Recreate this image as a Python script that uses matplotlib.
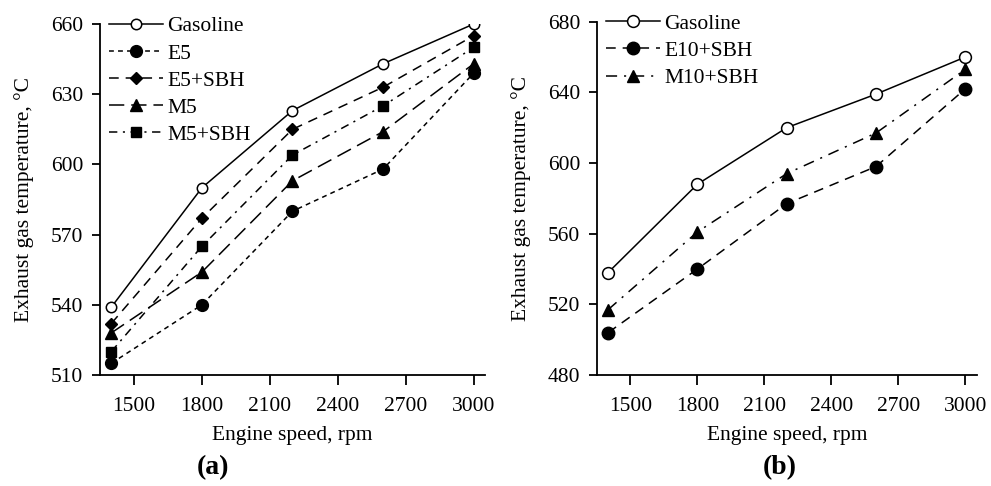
import matplotlib
matplotlib.use("Agg")
import matplotlib.pyplot as plt

plt.rcParams['font.family'] = ['Liberation Serif', 'DejaVu Serif']
plt.rcParams['lines.scale_dashes'] = False

# engine speed, rpm
speed = [1400, 1800, 2200, 2600, 3000]

# panel (a) exhaust gas temperature, deg C
gasoline_a = [539, 590, 623, 643, 660]
e5 = [515, 540, 580, 598, 639]
e5_sbh = [532, 577, 615, 633, 655]
m5 = [528, 554, 593, 614, 643]
m5_sbh = [520, 565, 604, 625, 650]

# panel (b)
gasoline_b = [538, 588, 620, 639, 660]
e10_sbh = [504, 540, 577, 598, 642]
m10_sbh = [517, 561, 594, 617, 653]

x_ticks = [1500, 1800, 2100, 2400, 2700, 3000]
y_ticks_a = [510, 540, 570, 600, 630, 660]
y_ticks_b = [480, 520, 560, 600, 640, 680]

fig = plt.figure(figsize=(9.91, 4.86), dpi=100)
ax1 = fig.add_axes([0.1009, 0.2284, 0.3885, 0.7222])
ax2 = fig.add_axes([0.6024, 0.2284, 0.3830, 0.7270])

lw = 1.1
fs = 15.5

ax1.plot(speed, gasoline_a, color='black', lw=lw, marker='o', ms=7.5,
         mfc='white', mec='black', mew=1.1, label='Gasoline')
ax1.plot(speed, e5, color='black', lw=lw, dashes=(3.5, 3), marker='o', ms=8.5,
         label='E5')
ax1.plot(speed, e5_sbh, color='black', lw=lw, dashes=(7, 5), marker='D', ms=6,
         label='E5+SBH')
ax1.plot(speed, m5, color='black', lw=lw, dashes=(11, 5), marker='^', ms=8,
         label='M5')
ax1.plot(speed, m5_sbh, color='black', lw=lw, dashes=(6, 4, 1.5, 4), marker='s', ms=7.5,
         label='M5+SBH')

ax2.plot(speed, gasoline_b, color='black', lw=lw, marker='o', ms=8.5,
         mfc='white', mec='black', mew=1.1, label='Gasoline')
ax2.plot(speed, e10_sbh, color='black', lw=lw, dashes=(7, 5), marker='o', ms=9,
         label='E10+SBH')
ax2.plot(speed, m10_sbh, color='black', lw=lw, dashes=(8, 5, 1.5, 5), marker='^', ms=8.5,
         label='M10+SBH')

for ax, yt in [(ax1, y_ticks_a), (ax2, y_ticks_b)]:
    ax.set_xlim(1350, 3050)
    ax.set_ylim(yt[0], yt[-1])
    ax.set_xticks(x_ticks)
    ax.set_yticks(yt)
    ax.spines['top'].set_visible(False)
    ax.spines['right'].set_visible(False)
    ax.spines['left'].set_linewidth(1.3)
    ax.spines['bottom'].set_linewidth(1.3)
    ax.tick_params(axis='x', direction='out', length=7, width=1.3, labelsize=fs, pad=9)
    ax.tick_params(axis='y', direction='out', length=6, width=1.3, labelsize=fs, pad=6)
    ax.set_xlabel('Engine speed, rpm', fontsize=fs, labelpad=7)
    ax.set_ylabel('Exhaust gas temperature, °C', fontsize=fs, labelpad=12)
    ax.legend(loc='upper left', bbox_to_anchor=(-0.015, 1.065), frameon=False,
              fontsize=fs, handlelength=2.5, handletextpad=0.2,
              labelspacing=0.33, borderaxespad=0.3, numpoints=1)

fig.text(213 / 991, 1 - 468 / 486, '(a)', fontsize=20, fontweight='bold',
         ha='center', va='center')
fig.text(780 / 991, 1 - 468 / 486, '(b)', fontsize=20, fontweight='bold',
         ha='center', va='center')

fig.savefig('out.png', dpi=100)
